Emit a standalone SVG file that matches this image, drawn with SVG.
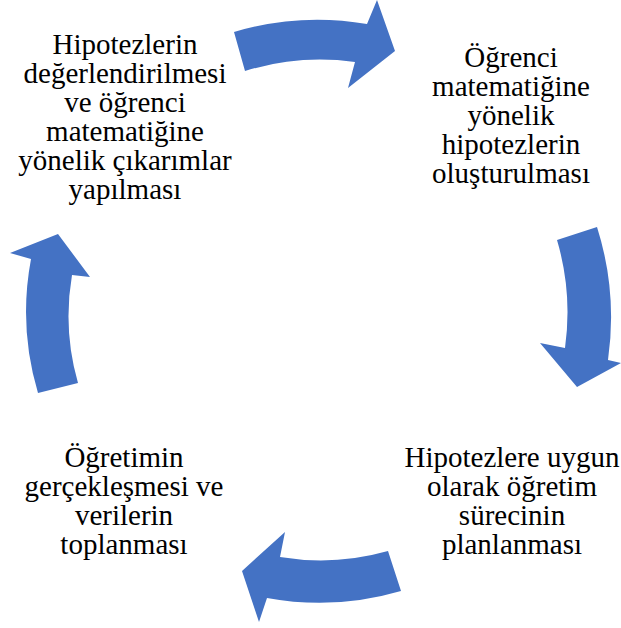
<svg xmlns="http://www.w3.org/2000/svg" width="621" height="628" viewBox="0 0 621 628">
<style>
.arr{fill:#4472C4;stroke:none}
.t{font-family:"Liberation Serif","Times New Roman",serif;font-size:29px;fill:#000;text-anchor:middle}
</style>
<rect width="621" height="628" fill="#fff"/>
<g id="connectors">
<path class="arr" d="M 234,32 A 293 293 0 0 1 367,24 L 377,0 L 395,51 L 348,88 L 355,62 A 254 254 0 0 0 245,71 Z"/>
<path class="arr" d="M 597,227 A 299 299 0 0 1 608,360 L 621,363 L 577,387 L 540,343 L 565,348 A 256 256 0 0 0 557,240 Z"/>
<path class="arr" d="M 401,591 A 290 290 0 0 1 267,598 L 259,622 L 242,571 L 285,532 L 280,557 A 248 248 0 0 0 388,551 Z"/>
<path class="arr" d="M 38,393 A 285 285 0 0 1 31,259 L 10,253 L 58,234 L 90,277 L 72,275 A 243 243 0 0 0 78,383 Z"/>
</g>
<g id="node1">
<text class="t" x="125" y="54">Hipotezlerin</text>
<text class="t" x="125" y="83">değerlendirilmesi</text>
<text class="t" x="125" y="112">ve öğrenci</text>
<text class="t" x="125" y="141">matematiğine</text>
<text class="t" x="125" y="170">yönelik çıkarımlar</text>
<text class="t" x="125" y="199">yapılması</text>
</g>
<g id="node2">
<text class="t" x="511" y="67">Öğrenci</text>
<text class="t" x="511" y="96">matematiğine</text>
<text class="t" x="511" y="125">yönelik</text>
<text class="t" x="511" y="154">hipotezlerin</text>
<text class="t" x="511" y="183">oluşturulması</text>
</g>
<g id="node3">
<text class="t" x="512" y="467">Hipotezlere uygun</text>
<text class="t" x="512" y="496">olarak öğretim</text>
<text class="t" x="512" y="525">sürecinin</text>
<text class="t" x="512" y="554">planlanması</text>
</g>
<g id="node4">
<text class="t" x="124" y="467">Öğretimin</text>
<text class="t" x="124" y="496">gerçekleşmesi ve</text>
<text class="t" x="124" y="525">verilerin</text>
<text class="t" x="124" y="554">toplanması</text>
</g>
</svg>
